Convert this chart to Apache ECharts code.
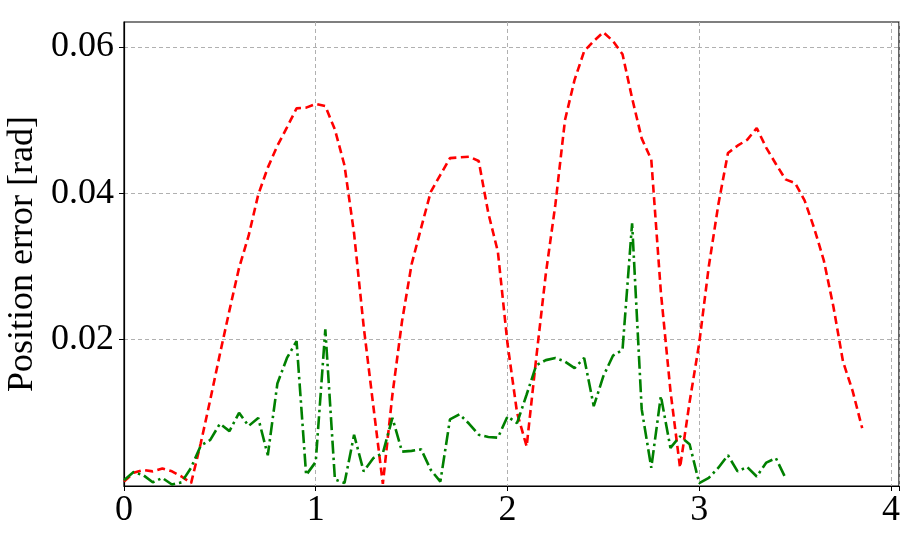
<!DOCTYPE html>
<html>
<head>
<meta charset="utf-8">
<script src="https://cdn.jsdelivr.net/npm/echarts@6/dist/echarts.min.js"></script>
<style>
html,body{margin:0;padding:0;background:#fff;}
#chart{width:909px;height:539px;}
</style>
</head>
<body>
<div id="chart"></div>
<script>
// Time samples (s)
var timeRed = [0.00,0.05,0.10,0.15,0.20,0.25,0.30,0.35,0.40,0.45,0.50,0.55,0.60,0.65,0.70,0.75,0.80,0.85,0.90,0.95,
  1.00,1.05,1.10,1.15,1.20,1.25,1.30,1.35,1.40,1.45,1.50,1.55,1.60,1.65,1.70,1.75,1.80,1.85,1.90,1.95,
  2.00,2.05,2.10,2.15,2.20,2.25,2.30,2.35,2.40,2.45,2.50,2.55,2.60,2.65,2.70,2.75,2.80,2.85,2.90,2.95,
  3.00,3.05,3.10,3.15,3.20,3.25,3.30,3.35,3.40,3.45,3.50,3.55,3.60,3.65,3.70,3.75,3.80,3.85];
var errorRed = [0.0006,0.0018,0.0022,0.0020,0.0024,0.0020,0.0013,0.0004,0.0058,0.0118,0.0180,0.0240,0.0298,0.0342,0.0398,0.0435,0.0465,0.0490,0.0516,0.0517,
  0.0522,0.0519,0.0487,0.0438,0.0345,0.0218,0.0110,0.0003,0.0125,0.0225,0.0303,0.0353,0.0402,0.0425,0.0448,0.0449,0.0450,0.0444,0.0373,0.0320,
  0.0195,0.0100,0.0054,0.0175,0.0290,0.0385,0.0500,0.0555,0.0594,0.0608,0.0620,0.0608,0.0590,0.0530,0.0475,0.0446,0.0265,0.0130,0.0025,0.0115,
  0.0195,0.0300,0.0385,0.0455,0.0465,0.0473,0.0489,0.0462,0.0440,0.0419,0.0414,0.0390,0.0352,0.0308,0.0245,0.0170,0.0130,0.0079];
var timeGreen = [0.00,0.05,0.10,0.15,0.20,0.25,0.30,0.35,0.40,0.45,0.50,0.55,0.60,0.65,0.70,0.75,0.80,0.85,0.90,0.95,
  1.00,1.05,1.10,1.15,1.20,1.25,1.30,1.35,1.40,1.45,1.50,1.55,1.60,1.65,1.70,1.75,1.80,1.85,1.90,1.95,
  2.00,2.05,2.10,2.15,2.20,2.25,2.30,2.35,2.40,2.45,2.50,2.55,2.60,2.65,2.70,2.75,2.80,2.85,2.90,2.95,
  3.00,3.05,3.10,3.15,3.20,3.25,3.30,3.35,3.40,3.45];
var errorGreen = [0.0008,0.0019,0.0015,0.0005,0.0011,0.0002,0.0005,0.0025,0.0055,0.0063,0.0085,0.0075,0.0100,0.0082,0.0093,0.0042,0.0140,0.0175,0.0198,0.0015,
  0.0033,0.0214,0.0009,0.0004,0.0070,0.0020,0.0038,0.0045,0.0093,0.0047,0.0048,0.0050,0.0022,0.0006,0.0091,0.0098,0.0085,0.0070,0.0067,0.0066,
  0.0095,0.0086,0.0125,0.0165,0.0172,0.0175,0.0170,0.0161,0.0175,0.0109,0.0150,0.0178,0.0186,0.0359,0.0105,0.0025,0.0123,0.0052,0.0068,0.0057,
  0.0004,0.0011,0.0025,0.0042,0.0020,0.0026,0.0013,0.0032,0.0038,0.0011];
var yTicks = [0.02,0.04,0.06];
var xTicks = [0,1,2,3,4];
var yLabel = 'Position error [rad]';

function pairs(t, v){ return t.map(function(x,i){ return [x, v[i]]; }); }

var font = '"Liberation Serif","Times New Roman",serif';
var chart = echarts.init(document.getElementById('chart'), null, {renderer:'canvas'});
chart.setOption({
  animation:false,
  backgroundColor:'#ffffff',
  grid:{left:124, top:22, right:10, bottom:53, containLabel:false, outerBoundsMode:'none',
        show:true, borderColor:'#000', borderWidth:1.2, backgroundColor:'transparent'},
  xAxis:{
    type:'value', min:0, max:4.042, interval:1,
    axisLine:{show:true, onZero:false, lineStyle:{color:'#000', width:1.2}},
    axisTick:{show:true, inside:false, length:5, lineStyle:{color:'#000', width:1}},
    axisLabel:{fontFamily:font, fontSize:36, color:'#000', margin:7,
      formatter:function(v){ return xTicks.indexOf(Math.round(v*1000)/1000) >= 0 ? String(v) : ''; }},
    splitLine:{show:true, lineStyle:{color:'#b0b0b0', type:[4,3], width:1}}
  },
  yAxis:{
    type:'value', min:0, max:0.0634, interval:0.02,
    name:yLabel, nameLocation:'middle', nameGap:82,
    nameTextStyle:{fontFamily:font, fontSize:36, color:'#000'},
    axisLine:{show:true, onZero:false, lineStyle:{color:'#000', width:1.2}},
    axisTick:{show:true, inside:false, length:5, lineStyle:{color:'#000', width:1},
      customValues: yTicks},
    axisLabel:{fontFamily:font, fontSize:36, color:'#000', margin:10,
      customValues: yTicks,
      formatter:function(v){ var r=Math.round(v*100)/100; return yTicks.indexOf(r) >= 0 && Math.abs(v-r)<1e-6 ? r.toFixed(2) : ''; }},
    splitLine:{show:true, lineStyle:{color:'#b0b0b0', type:[4,3], width:1}}
  },
  series:[
    {type:'line', data:pairs(timeRed, errorRed), showSymbol:false, symbol:'none', clip:true,
     lineStyle:{color:'#ff0000', width:2.6, type:[8,4.5]}},
    {type:'line', data:pairs(timeGreen, errorGreen), showSymbol:false, symbol:'none', clip:true,
     lineStyle:{color:'#008000', width:2.6, type:[13,4,2.5,4]}}
  ]
});
</script>
</body>
</html>
